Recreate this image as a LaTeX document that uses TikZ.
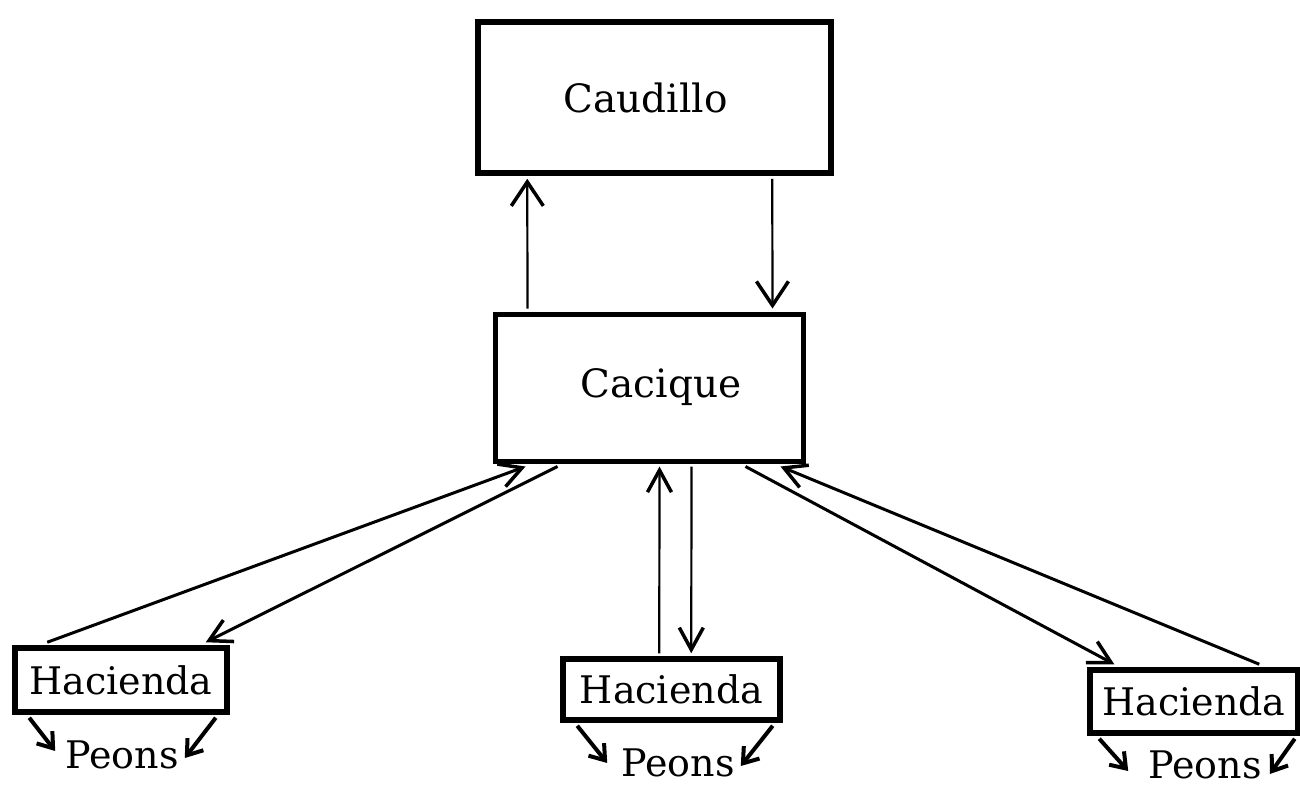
\documentclass[tikz,border=0pt]{standalone}
\usepackage{fontspec}
\setmainfont{DejaVu Serif}
\usetikzlibrary{arrows.meta,calc}
\begin{document}
\begin{tikzpicture}[x=1pt,y=-1pt,
  box/.style={draw,line width=5.5pt,inner sep=0pt,font=\fontsize{39}{44}\selectfont},
  hbox/.style={draw,line width=5.5pt,inner sep=0pt,font=\fontsize{38}{44}\selectfont},
  peon/.style={inner sep=0pt,font=\fontsize{38}{44}\selectfont},
  arr/.style={line width=2.2pt,-{Straight Barb[length=24pt,width=32pt,line width=3.5pt]}},
  darr/.style={line width=3pt,-{Straight Barb[length=22pt,width=24pt,line width=3.5pt]}},
  parr/.style={line width=4pt,-{Straight Barb[length=14pt,width=20pt]}}]
\useasboundingbox (0,0) rectangle (1300,788);
% boxes
\node[box,minimum width=353pt,minimum height=151pt] (cau) at (654.5,97.5) {Caudillo\hspace*{18pt}};
\node[box,line width=5pt,minimum width=308pt,minimum height=147pt] (cac) at (649,387.5) {\hspace*{24pt}Cacique};
\node[hbox,minimum width=212pt,minimum height=64pt] (h1) at (121,680) {Hacienda};
\node[hbox,minimum width=217pt,minimum height=61pt] (h2) at (671.5,689.5) {Hacienda};
\node[hbox,minimum width=208pt,minimum height=63pt] (h3) at (1194,701.5) {Hacienda};
\node[peon] (p1) at (122,755) {Peons};
\node[peon] (p2) at (678,763) {Peons};
\node[peon] (p3) at (1205,765) {Peons};
% caudillo <-> cacique
\draw[arr] ($(cac.north west)+(35,-3)$) -- ($(cau.south west)+(52,3)$);
\draw[arr] ($(cau.south west)+(297,3)$) -- ($(cac.north west)+(280,-3)$);
% cacique <-> haciendas
\draw[darr] ($(h1.north west)+(35,-3)$) -- ($(cac.south west)+(33,3)$);
\draw[darr] ($(cac.south west)+(65,3)$) -- ($(h1.north east)+(-24,-3)$);
\draw[darr,line width=2.2pt] ($(h2.north west)+(99,-3)$) -- ($(cac.south west)+(167,3)$);
\draw[darr,line width=2.2pt] ($(cac.south west)+(199,3)$) -- ($(h2.north west)+(131,-3)$);
\draw[darr] ($(cac.south east)+(-60,3)$) -- ($(h3.north west)+(27,-3)$);
\draw[darr] ($(h3.north west)+(172,-3)$) -- ($(cac.south east)+(-25,3)$);
% hacienda -> peons
\draw[parr] ($(h1.south west)+(17,3)$) -- ($(p1.west)+(-10,-4)$);
\draw[parr] ($(h1.south east)+(-14,3)$) -- ($(p1.east)+(6,3)$);
\draw[parr] ($(h2.south west)+(17,3)$) -- ($(p2.west)+(-14,0)$);
\draw[parr] ($(h2.south east)+(-10,3)$) -- ($(p2.east)+(6,3)$);
\draw[parr] ($(h3.south west)+(12,3)$) -- ($(p3.west)+(-20,6)$);
\draw[parr] ($(h3.south east)+(-6,3)$) -- ($(p3.east)+(8,9)$);
\end{tikzpicture}
\end{document}
